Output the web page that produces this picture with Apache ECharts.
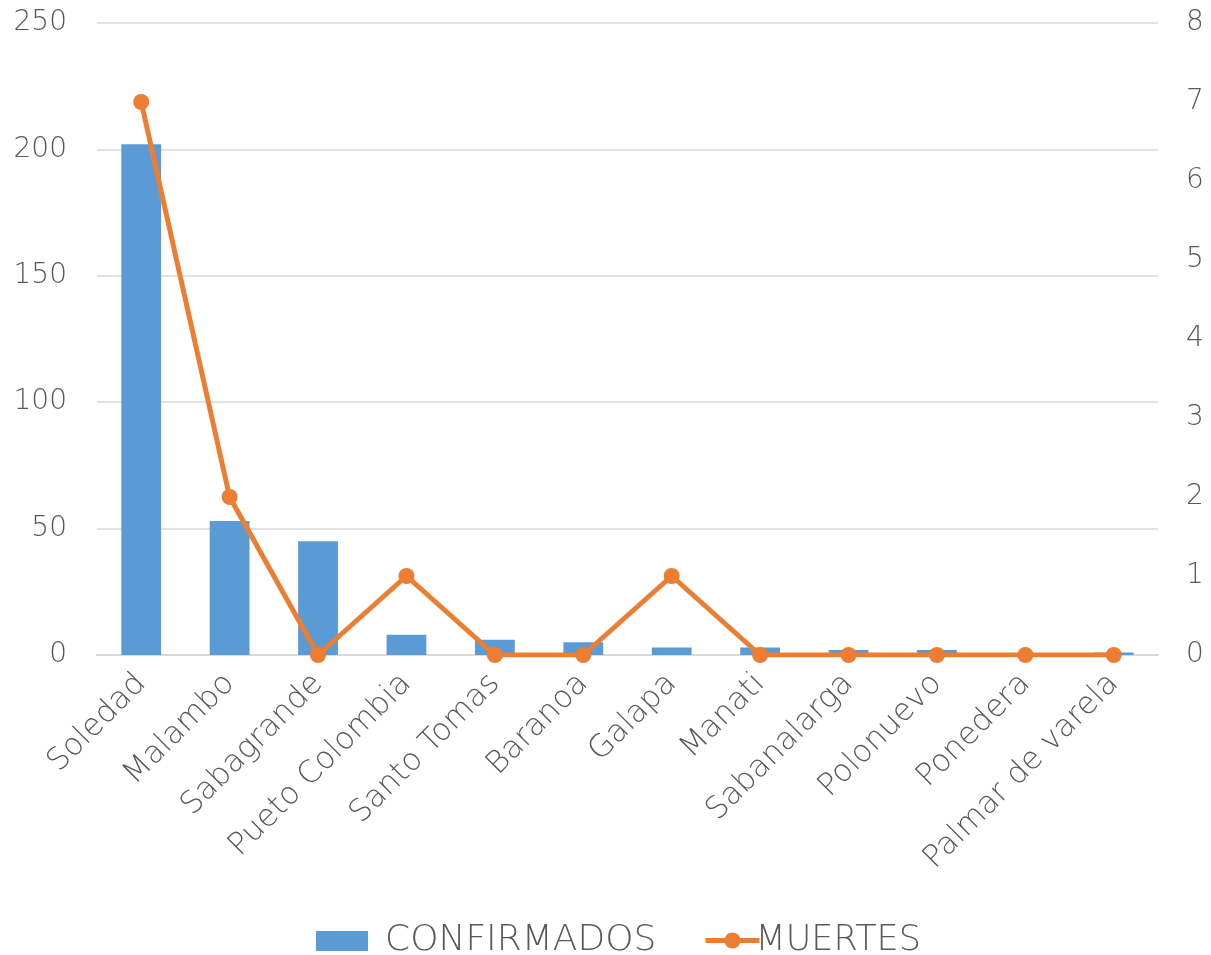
<!DOCTYPE html>
<html>
<head>
<meta charset="utf-8">
<script src="https://cdn.jsdelivr.net/npm/echarts@6/dist/echarts.min.js"></script>
<style>
  html, body { margin: 0; padding: 0; background: #fff; }
  #chart { width: 1211px; height: 955px; }
</style>
</head>
<body>
<div id="chart"></div>
<script>
// Municipalities
const categories = ['Soledad', 'Malambo', 'Sabagrande', 'Pueto Colombia', 'Santo Tomas', 'Baranoa',
  'Galapa', 'Manati', 'Sabanalarga', 'Polonuevo', 'Ponedera', 'Palmar de varela'];
// Confirmed cases (left axis)
const confirmados = [202, 53, 45, 8, 6, 5, 3, 3, 2, 2, 0, 1];
// Deaths (right axis)
const muertes = [7, 2, 0, 1, 0, 0, 1, 0, 0, 0, 0, 0];
const leftTicks = [0, 50, 100, 150, 200, 250];
const rightTicks = [0, 1, 2, 3, 4, 5, 6, 7, 8];

const FONT = '"DejaVu Sans", sans-serif';
const WEIGHT = 200;
const GRAY = '#595959';
const ORANGE = '#ED7D31';

const chart = echarts.init(document.getElementById('chart'));
chart.setOption({
  animation: false,
  textStyle: { fontFamily: FONT },
  grid: { left: 97, right: 53, top: 23, bottom: 300, containLabel: false },
  legend: [
    {
      left: 311, top: 918,
      itemWidth: 52, itemHeight: 20,
      textStyle: { fontSize: 36, color: GRAY, fontFamily: FONT, fontWeight: WEIGHT, padding: [0, 0, 0, 12] },
      data: [{ name: 'CONFIRMADOS', icon: 'rect' }]
    },
    {
      left: 698, top: 918,
      itemWidth: 54, itemHeight: 20,
      lineStyle: { width: 5, color: ORANGE },
      textStyle: { fontSize: 35, color: GRAY, fontFamily: FONT, fontWeight: WEIGHT, padding: [0, 0, 0, -9] },
      data: [{ name: 'MUERTES' }]
    }
  ],
  xAxis: {
    type: 'category',
    data: categories,
    axisLine: { lineStyle: { color: '#D9D9D9', width: 2 } },
    axisTick: { show: false },
    axisLabel: {
      rotate: 45, color: GRAY, fontSize: 31, fontFamily: FONT, fontWeight: WEIGHT, margin: 24, interval: 0
    }
  },
  yAxis: [
    {
      type: 'value', min: leftTicks[0], max: leftTicks[leftTicks.length - 1], interval: 50,
      axisLine: { show: false }, axisTick: { show: false },
      axisLabel: { color: GRAY, fontSize: 28, fontFamily: FONT, fontWeight: WEIGHT, margin: 30 },
      splitLine: { lineStyle: { color: '#D9D9D9', width: 1.5 } }
    },
    {
      type: 'value', min: rightTicks[0], max: rightTicks[rightTicks.length - 1], interval: 1,
      axisLine: { show: false }, axisTick: { show: false },
      axisLabel: { color: GRAY, fontSize: 28, fontFamily: FONT, fontWeight: WEIGHT, margin: 28 },
      splitLine: { show: false }
    }
  ],
  series: [
    {
      name: 'CONFIRMADOS',
      type: 'bar',
      yAxisIndex: 0,
      data: confirmados,
      barWidth: '45%',
      itemStyle: { color: '#5B9BD5' }
    },
    {
      name: 'MUERTES',
      type: 'line',
      yAxisIndex: 1,
      data: muertes,
      symbol: 'circle',
      symbolSize: 16,
      lineStyle: { color: ORANGE, width: 5 },
      itemStyle: { color: ORANGE }
    }
  ]
});
</script>
</body>
</html>
